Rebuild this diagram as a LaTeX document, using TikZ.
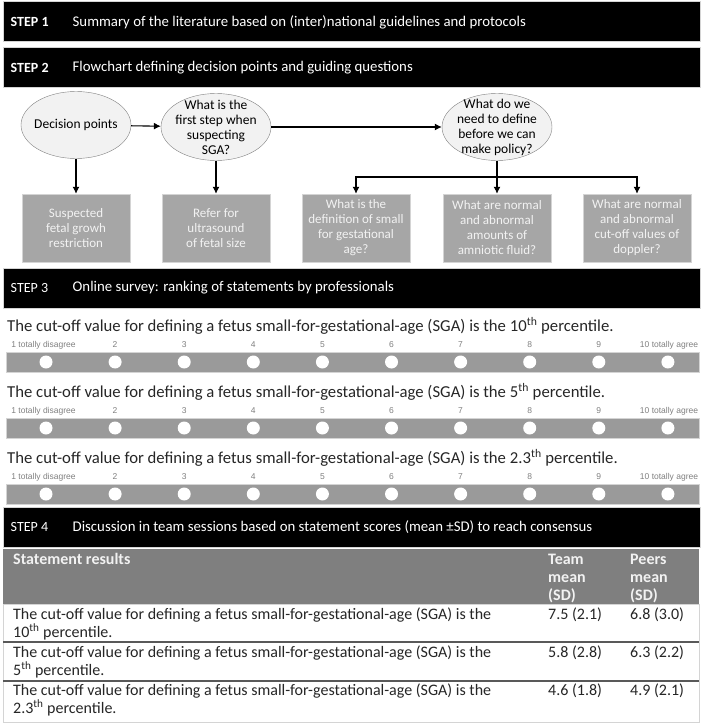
\documentclass[tikz,border=0pt]{standalone}
\usepackage{fontspec}
\setmainfont{Carlito}
\newfontfamily\scalefont{Liberation Sans}
\usetikzlibrary{shapes.geometric,arrows.meta,positioning}
\definecolor{boxgray}{HTML}{A6A6A6}
\definecolor{bargray}{HTML}{9A9A9A}
\definecolor{headgray}{HTML}{7F7F7F}
\definecolor{rimgray}{HTML}{D4D4D4}
\definecolor{ellfill}{HTML}{F2F2F2}
\definecolor{inkgray}{HTML}{262626}
\definecolor{rulegray}{HTML}{595959}
\tikzset{
  stepbar/.style={
    rectangle,
    fill=black,
    draw=rimgray,
    line width=1pt,
    minimum width=697pt,
    minimum height=40pt,
    inner sep=0pt,
  },
  steptag/.style={
    anchor=west,
    text=white,
    inner sep=0pt,
    font=\fontsize{14.8}{17}\selectfont,
  },
  question/.style={
    ellipse,
    draw=gray,
    fill=ellfill,
    minimum width=110pt,
    minimum height=67pt,
    inner xsep=-6pt,
    inner ysep=-14pt,
    align=center,
    font=\fontsize{13.5}{15}\selectfont,
  },
  answer/.style={
    rectangle,
    fill=boxgray,
    draw=rimgray,
    minimum width=108pt,
    minimum height=68pt,
    inner sep=0pt,
    align=center,
    text=ellfill,
    font=\fontsize{13}{15}\selectfont,
  },
  arrow/.style={
    -{Latex[length=7pt,width=7pt]},
    line width=1.1pt,
  },
  dot/.style={
    circle,
    fill=white,
    minimum size=13pt,
    inner sep=0pt,
  },
  scalelabel/.style={
    text=gray,
    inner sep=0pt,
    font=\scalefont\fontsize{8.5}{10}\selectfont,
  },
  statement/.style={
    anchor=west,
    text=inkgray,
    inner sep=0pt,
    font=\fontsize{16.7}{19}\selectfont,
  },
  cell/.style={
    anchor=north west,
    align=left,
    text=inkgray,
    inner sep=0pt,
    font=\fontsize{16}{18}\selectfont,
  },
  headcell/.style={
    anchor=north west,
    align=left,
    text=ellfill,
    inner sep=0pt,
    font=\bfseries\fontsize{16}{18}\selectfont,
  },
}

\begin{document}
\begin{tikzpicture}[x=1pt, y=-1pt]
  \useasboundingbox (0, 0) rectangle (709, 727);

  % step bars
  \node[stepbar] (step1) at (351.5, 22) {};
  \node[stepbar] (step2) at (351.5, 68) {};
  \node[stepbar] (step3) at (351.5, 288) {};
  \node[stepbar] (step4) at (351.5, 527) {};

  \node[steptag, font=\bfseries\fontsize{14}{16}\selectfont] at ([xshift=8pt]step1.west) {STEP 1};
  \node[steptag] at ([xshift=70pt]step1.west) {Summary of the literature based on (inter)national guidelines and protocols};
  \node[steptag, font=\bfseries\fontsize{14}{16}\selectfont] at ([xshift=8pt]step2.west) {STEP 2};
  \node[steptag] at ([xshift=70pt]step2.west) {Flowchart defining decision points and guiding questions};
  \node[steptag, font=\fontsize{14}{16}\selectfont] at ([xshift=8pt]step3.west) {STEP 3};
  \node[steptag] at ([xshift=70pt]step3.west) {Online survey: ranking of statements by professionals};
  \node[steptag, font=\fontsize{14}{16}\selectfont] at ([xshift=8pt]step4.west) {STEP 4};
  \node[steptag] at ([xshift=70pt]step4.west) {Discussion in team sessions based on statement scores (mean ±SD) to reach consensus};

  % flowchart
  \node[question] (decision) at (76, 125) {Decision points};
  \node[question] (firststep) at (216, 127) {What is the\\first step when\\suspecting\\SGA?};
  \node[question] (define) at (497, 127) {What do we\\need to define\\before we can\\make policy?};

  \node[answer] (fgr) at (76, 228) {Suspected\\fetal growh\\restriction};
  \node[answer] (refer) at (216, 228) {Refer for\\ultrasound\\of fetal size};
  \node[answer] (small) at (356, 228) {What is the\\definition of small\\for gestational\\age?};
  \node[answer] (fluid) at (497, 228) {What are normal\\and abnormal\\amounts of\\amniotic fluid?};
  \node[answer] (doppler) at (637, 228) {What are normal\\and abnormal\\cut-off values of\\doppler?};

  \draw[arrow] (decision) -- (firststep);
  \draw[arrow] (firststep) -- (define);
  \draw[arrow] (decision) -- (fgr);
  \draw[arrow] (firststep.south) -- (refer.north);
  \coordinate (fork) at (define.south |- 0, 177);
  \draw[line width=1.1pt] (define.south) -- (fork);
  \draw[arrow] (fork) -| (small.north);
  \draw[arrow] (fork) -- (fluid.north);
  \draw[arrow] (fork) -| (doppler.north);

  % rating scales
  \foreach \k/\pct in {0/10, 1/5, 2/2.3} {
    \node[statement] (stmt\k) at (7, 326 + 66*\k)
      {The cut-off value for defining a fetus small-for-gestational-age (SGA) is the \pct\textsuperscript{th} percentile.};
    \node[rectangle, fill=bargray, draw=rimgray, minimum width=693pt, minimum height=20pt, inner sep=0pt]
      (bar\k) at (352.5, 362 + 66*\k) {};
    \foreach \i in {1,...,10} {
      \node[dot] (dot\k-\i) at (46 + 69.1*\i - 69.1, 362 + 66*\k) {};
    }
    \node[scalelabel] at (43.5, 345 + 66*\k) {1 totally disagree};
    \foreach \i in {2,...,9} {
      \node[scalelabel] at (46 + 69.1*\i - 69.1, 345 + 66*\k) {\i};
    }
    \node[scalelabel] at (669, 345 + 66*\k) {10 totally agree};
  }

  % results table
  \node[rectangle, fill=headgray, minimum width=696pt, minimum height=55pt, inner sep=0pt]
    (head) at (351, 576.5) {};
  \node[rectangle, fill=white, draw=rimgray, minimum width=696pt, minimum height=118pt, inner sep=0pt]
    (body) at (351, 663) {};
  \node[headcell] (hstate) at (13, 553) {Statement results};
  \node[headcell] (hteam) at (548, 554) {Team\\mean\\(SD)};
  \node[headcell] (hpeers) at (630, 554) {Peers\\mean\\(SD)};

  \coordinate (rule1) at (3, 642);
  \coordinate (rule2) at (3, 681);
  \draw[rulegray, line width=1.5pt] (rule1) -- (rule1 -| body.east);
  \draw[rulegray, line width=1.5pt] (rule2) -- (rule2 -| body.east);

  \foreach \k/\pct/\team/\peers in {0/10/7.5 (2.1)/6.8 (3.0), 1/5/5.8 (2.8)/6.3 (2.2), 2/2.3/4.6 (1.8)/4.9 (2.1)} {
    \node[cell] (row\k) at (13, 608 + 38*\k)
      {The cut-off value for defining a fetus small-for-gestational-age (SGA) is the\\\pct\textsuperscript{th} percentile.};
    \node[cell] (team\k) at (548, 608 + 38*\k) {\team};
    \node[cell] (peers\k) at (630, 608 + 38*\k) {\peers};
  }
\end{tikzpicture}
\end{document}
